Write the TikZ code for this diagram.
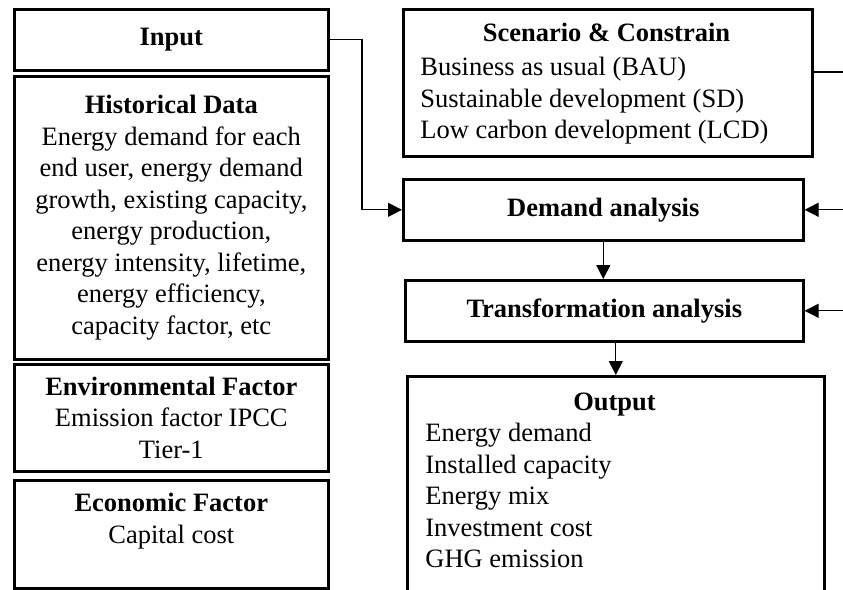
\documentclass[tikz,border=0pt]{standalone}
\usepackage{fontspec}
\setmainfont{Liberation Serif}
\usetikzlibrary{arrows.meta}
\newcommand\diafont{\fontsize{13.25pt}{15.75pt}\selectfont}
\begin{document}
\begin{tikzpicture}[x=0.5pt,y=-0.5pt,
  box/.style={draw=black, line width=1.3pt, inner sep=0pt, anchor=north west,
    align=center, font=\diafont},
  head/.style={anchor=base, inner sep=0pt, font=\diafont\bfseries},
  items/.style={anchor=north west, inner sep=0pt, align=left, font=\diafont},
  conn/.style={draw=black, line width=0.6pt},
  arrow/.style={conn, -{Triangle[length=7pt,width=7pt]}}]
\useasboundingbox (0,0) rectangle (843,590);
\clip (0,0) rectangle (843,590);

% left column: inputs
\node[box, minimum width=157pt, minimum height=30.5pt] (input) at (13,8) {\textbf{Input}};
\node[box, minimum width=157pt, minimum height=141.5pt] (hist) at (13,75)
  {\textbf{Historical Data}\\Energy demand for each\\end user, energy demand\\growth, existing capacity,\\energy production,\\energy intensity, lifetime,\\energy efficiency,\\capacity factor, etc};
\node[box, minimum width=157pt, minimum height=53.5pt] (env) at (13,363)
  {\textbf{Environmental Factor}\\Emission factor IPCC\\Tier-1};
\node[box, minimum width=157pt, minimum height=54pt] (econ) at (13,479)
  {\textbf{Economic Factor}\\Capital cost\\\mbox{}};

% right column: scenarios and analysis chain
\node[box, minimum width=204.5pt, minimum height=73.5pt] (scen) at (402,8) {};
\node[head] (scenhead) at (606.5,41) {Scenario \& Constrain};
\node[items] (scenlist) at (420,57)
  {Business as usual (BAU)\\Sustainable development (SD)\\Low carbon development (LCD)};

\node[box, minimum width=200pt, minimum height=30.5pt] (demand) at (402,178) {\textbf{Demand analysis}};
\node[box, minimum width=199pt, minimum height=30.5pt] (trans) at (404,279) {\textbf{Transformation analysis}};

\node[box, minimum width=208.5pt, minimum height=125pt] (output) at (406,375) {};
\node[head] (outhead) at (614.5,410) {Output};
\node[items] (outlist) at (425,423)
  {Energy demand\\Installed capacity\\Energy mix\\Investment cost\\GHG emission};

% connectors
\coordinate (bend) at (362,0);
\coordinate (edge) at (843,0);
\coordinate (scenedge) at (843,72);
\draw[arrow] (input.east) -- (input.east -| bend) |- (demand.west);
\draw[arrow] (demand.south) -- (demand.south |- trans.north);
\draw[arrow] (trans.south -| output.north) -- (output.north);
\draw[conn] ([yshift=-32pt]scen.north east) -- (scenedge);
\draw[arrow] (edge |- demand.east) -- (demand.east);
\draw[arrow] (edge |- trans.east) -- (trans.east);
\end{tikzpicture}
\end{document}
